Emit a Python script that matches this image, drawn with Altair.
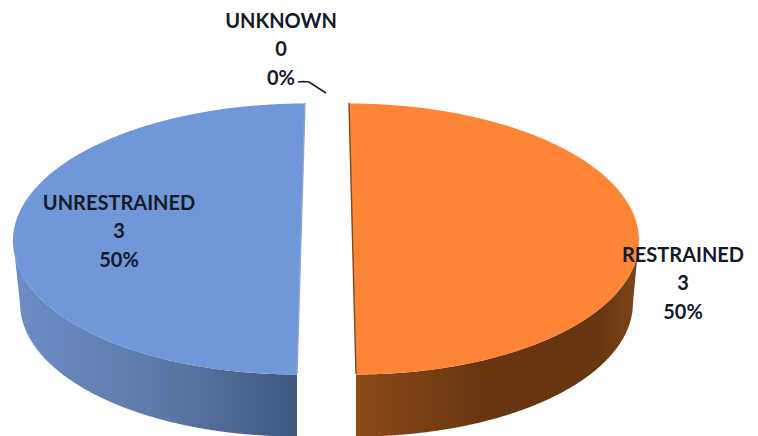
import numpy as np
import pandas as pd
import altair as alt

categories = ["RESTRAINED", "UNKNOWN", "UNRESTRAINED"]
counts = [3, 0, 3]

total = sum(counts)
percents = [f"{round(c / total * 100)}%" for c in counts]

# layout constants (image pixels)
TOP, BOTTOM = 103.0, 374.0
CY, RY = 239.0, 135.5
WALL = 62.0
GEOM = {
    "RESTRAINED": dict(line=(349.0, 356.0), rx=286.5, inset=6.0),
    "UNRESTRAINED": dict(line=(305.0, 297.0), rx=288.0, inset=7.0),
}
LABEL_POS = {
    "RESTRAINED": (683, [255.5, 283.5, 312.5]),
    "UNKNOWN": (281, [21.5, 49.5, 78.5]),
    "UNRESTRAINED": (119, [203.5, 231.5, 260.5]),
}

x_scale = alt.Scale(domain=[8, 750], nice=False, zero=False)
y_scale = alt.Scale(domain=[436, 8], nice=False, zero=False)
X = alt.X("x:Q", scale=x_scale, axis=None)
Y = alt.Y("y:Q", scale=y_scale, axis=None)


def slice_frames(name, a0, a1):
    g = GEOM[name]
    a = np.radians(np.linspace(a0, a1, 241))
    y = CY - RY * np.cos(a)
    xc = g["line"][0] + (g["line"][1] - g["line"][0]) * (y - TOP) / (BOTTOM - TOP)
    x = xc + g["rx"] * np.sin(a)
    top = pd.DataFrame({"x": x, "x2": xc, "y": y}).sort_values("y")

    sign = 1 if g["line"][1] > g["line"][0] else -1
    low = top[top["y"] >= CY].sort_values("x")
    ext_x = low["x"].iloc[-1] if sign > 0 else low["x"].iloc[0]
    grid = np.linspace(low["x"].min(), low["x"].max(), 300)
    upper = np.interp(grid, low["x"], low["y"])
    bx = (low["x"] - sign * g["inset"] * (np.abs(low["x"] - low["x2"]) / g["rx"])).values
    by = (low["y"] + WALL).values
    # tie the lower rim back to the widest point of the top face
    bx = np.append(bx, ext_x)
    by = np.append(by, CY)
    o = np.argsort(bx)
    lower = np.interp(grid, bx[o], by[o])
    wall = pd.DataFrame({"x": grid, "y": upper, "y2": np.maximum(lower, upper)})
    edge = pd.DataFrame({"x": [g["line"][0], g["line"][1]], "y": [TOP, BOTTOM]})
    return top, wall, edge


start = 0.0
layers = []
styles = {
    "RESTRAINED": dict(top="#FD8535", edge="#7A4A22",
                       stops=[("#8C4A18", 0), ("#683510", 0.45), ("#683510", 0.85), ("#7E4517", 1)]),
    "UNRESTRAINED": dict(top="#7097D7", edge="#8CA6D2",
                         stops=[("#6C8DC8", 0), ("#5D7AAA", 0.5), ("#3F5880", 1)]),
}
for name, c in zip(categories, counts):
    sweep = 360.0 * c / total
    if sweep > 0:
        top, wall, edge = slice_frames(name, start, start + sweep)
        st = styles[name]
        layers.append(
            alt.Chart(wall).mark_area(
                clip=True,
                fill=alt.Gradient(
                    gradient="linear", x1=0, x2=1, y1=0, y2=0,
                    stops=[alt.GradientStop(color=s, offset=o) for s, o in st["stops"]],
                ),
            ).encode(x=X, y=Y, y2="y2:Q")
        )
        layers.append(
            alt.Chart(top).mark_area(orient="horizontal", color=st["top"], clip=True)
            .encode(x=X, x2="x2:Q", y=Y)
        )
        layers.append(
            alt.Chart(edge).mark_line(color=st["edge"], strokeWidth=1.4, clip=True)
            .encode(x=X, y=Y)
        )
    start += sweep

leader = pd.DataFrame({"x": [298, 303, 309, 326], "y": [82, 81.5, 82, 93]})
layers.append(
    alt.Chart(leader).mark_line(color="#1a1a1a", strokeWidth=1.5)
    .encode(x=X, y=Y)
)

rows = []
for name, c, p in zip(categories, counts, percents):
    lx, ly = LABEL_POS[name]
    for t, yy in zip([name, str(c), p], ly):
        rows.append({"x": lx, "y": yy, "t": t})
layers.append(
    alt.Chart(pd.DataFrame(rows)).mark_text(
        font="Lato", fontWeight="bold", fontSize=20, color="#141a28",
        align="center", baseline="middle",
    ).encode(x=X, y=Y, text="t:N")
)

chart = alt.layer(*layers).properties(
    width=742, height=428, padding=0, autosize=alt.AutoSizeParams(type="none"),
    background="white",
).configure_view(stroke=None)

chart.save("out.html", embed_options={"renderer": "svg", "actions": False})
